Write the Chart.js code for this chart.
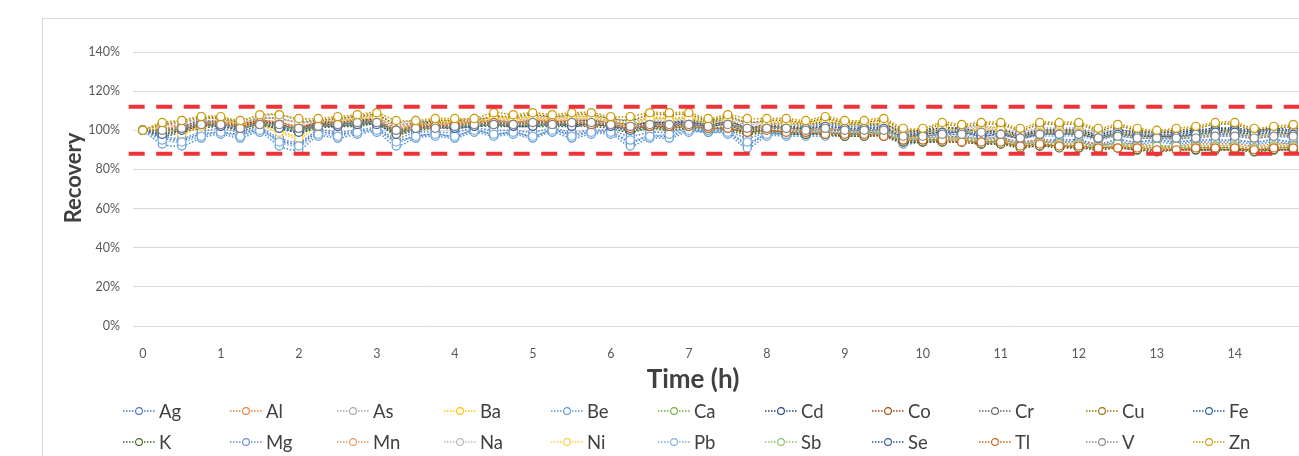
<!DOCTYPE html>
<html>
<head>
<meta charset="utf-8">
<script src="https://cdn.jsdelivr.net/npm/chart.js@4"></script>
<style>
  body { margin:0; background:#fff; overflow:hidden; width:1299px; height:456px; position:relative; font-family: Lato, "Noto Sans", sans-serif; }
  #frame { position:absolute; left:42px; top:18px; width:1330px; height:470px; border:1px solid #d9d9d9; box-sizing:border-box; }
  #wrap { position:absolute; left:42px; top:18px; width:1320px; height:438px; }
  #xtitle { position:absolute; left:593px; width:200px; top:362px; text-align:center; font-size:26px; font-weight:bold; color:#404040; line-height:32px; }
  #ytitle { position:absolute; left:-27px; width:200px; top:164px; text-align:center; font-size:22px; font-weight:bold; color:#404040; line-height:28px; transform:rotate(-90deg); }
  #legend { position:absolute; left:122px; top:395px; width:1200px; }
  .row { height:31px; white-space:nowrap; }
  .item { display:inline-flex; align-items:center; width:107px; height:31px; font-size:18.5px; color:#404040; }
  .item svg { margin-right:3px; }
</style>
</head>
<body>
<div id="frame"></div>
<div id="wrap"><canvas id="recoveryChart" width="1320" height="438"></canvas></div>
<div id="xtitle">Time (h)</div>
<div id="ytitle">Recovery</div>
<div id="legend"></div>
<script>
'use strict';

// sampling times (h)
const hours = [0, 0.25, 0.5, 0.75, 1, 1.25, 1.5, 1.75, 2, 2.25, 2.5, 2.75, 3, 3.25, 3.5, 3.75,
  4, 4.25, 4.5, 4.75, 5, 5.25, 5.5, 5.75, 6, 6.25, 6.5, 6.75, 7, 7.25, 7.5, 7.75,
  8, 8.25, 8.5, 8.75, 9, 9.25, 9.5, 9.75, 10, 10.25, 10.5, 10.75, 11, 11.25, 11.5, 11.75,
  12, 12.25, 12.5, 12.75, 13, 13.25, 13.5, 13.75, 14, 14.25, 14.5, 14.75];

// labelled hours on the x axis
const hourTicks = [0, 1, 2, 3, 4, 5, 6, 7, 8, 9, 10, 11, 12, 13, 14];

const elements = ['Ag', 'Al', 'As', 'Ba', 'Be', 'Ca', 'Cd', 'Co', 'Cr', 'Cu', 'Fe',
  'K', 'Mg', 'Mn', 'Na', 'Ni', 'Pb', 'Sb', 'Se', 'Tl', 'V', 'Zn'];

// recovery in %
const recAg = [100,96,95,98, 99,98,100,95, 93,99,98,99, 100,95,97,98, 97,100,98,99, 97,100,98,99, 99,94,97,97, 100,99,99,93, 98,98,98,99, 98,99,98,94, 95,96,97,95, 96,94,95,95, 95,93,95,94, 95,94,95,95, 95,94,95,94];
const recAl = [100,103,102,104, 105,103,105,104, 102,104,104,105, 106,102,103,103, 104,104,105,104, 105,105,105,105, 104,103,104,103, 104,103,103,101, 102,101,101,101, 100,100,100,97, 97,97,96,96, 96,94,95,94, 94,93,93,93, 92,92,93,93, 93,92,93,93];
const recAs = [100,103,105,107, 106,105,107,108, 105,105,106,107, 107,104,105,104, 105,106,106,106, 107,107,107,107, 106,105,106,106, 106,105,106,104, 104,104,103,104, 103,103,103,100, 100,101,101,102, 101,99,101,101, 101,99,100,99, 99,99,99,100, 100,99,100,100];
const recBa = [100,102,99,103, 105,104,103,100, 97,104,105,106, 107,98,103,104, 105,104,107,106, 107,106,107,107, 105,103,107,106, 107,104,106,100, 104,104,104,105, 104,104,104,98, 98,102,100,101, 101,97,100,100, 100,97,99,98, 97,97,98,100, 100,98,99,99];
const recBe = [100,93,92,96, 98,96,99,92, 90,97,96,98, 99,92,96,97, 96,99,97,98, 96,99,96,98, 98,92,96,96, 99,99,98,91, 97,97,97,97, 97,98,97,93, 94,95,96,93, 95,93,94,94, 94,92,94,93, 94,93,94,94, 94,93,94,93];
const recCa = [100,98,100,102, 102,101,103,102, 100,102,102,103, 103,99,101,101, 102,102,103,102, 103,103,103,103, 102,100,101,101, 102,101,101,99, 100,99,99,99, 98,98,98,95, 95,95,95,94, 94,92,93,92, 92,91,92,91, 91,91,91,91, 91,90,91,91];
const recCd = [100,100,102,105, 104,103,105,103, 101,104,104,105, 105,100,103,104, 103,104,105,104, 104,105,104,105, 104,102,104,104, 105,104,105,101, 103,103,103,104, 103,103,103,99, 100,101,101,99, 100,98,100,100, 100,98,100,99, 99,99,100,101, 101,100,101,100];
const recCo = [100,99,100,102, 103,102,104,103, 101,102,103,103, 104,100,101,102, 102,103,103,103, 103,103,103,103, 102,101,102,101, 102,101,101,99, 100,99,98,98, 97,97,97,94, 94,94,94,93, 93,92,92,92, 91,91,91,90, 90,90,90,90, 90,90,90,90];
const recCr = [100,101,102,104, 104,102,104,104, 102,103,104,105, 105,101,102,102, 103,104,104,104, 105,104,105,105, 104,103,104,104, 104,103,104,102, 102,102,101,102, 101,101,101,98, 98,99,99,100, 99,97,99,99, 99,97,98,97, 97,97,97,98, 98,97,98,98];
const recCu = [100,103,104,106, 106,104,106,106, 104,105,106,107, 108,103,104,105, 105,105,107,107, 108,107,108,108, 106,105,108,108, 108,105,107,104, 105,105,104,106, 104,104,105,100, 100,103,102,103, 103,100,103,103, 103,100,102,100, 99,100,101,103, 103,100,101,102];
const recFe = [100,99,101,104, 103,102,104,102, 100,103,103,104, 104,99,102,103, 102,103,104,103, 103,104,103,104, 103,101,103,103, 104,103,104,100, 102,102,102,103, 102,102,102,98, 99,100,100,98, 99,97,99,99, 99,97,99,98, 98,98,99,100, 100,99,100,99];
const recK = [100,97,99,101, 102,100,102,101, 99,101,102,102, 103,98,100,101, 101,102,102,102, 102,102,102,102, 101,99,101,100, 101,100,100,98, 99,98,98,98, 97,97,97,94, 94,94,94,93, 93,91,92,91, 91,90,91,90, 89,90,90,90, 90,89,90,90];
const recMg = [100,97,96,99, 101,99,101,96, 94,100,99,100, 101,96,99,99, 99,101,100,100, 99,101,99,100, 100,97,99,99, 101,101,100,96, 99,99,100,100, 100,100,100,96, 97,98,99,97, 98,97,98,98, 98,96,98,97, 97,96,98,98, 98,97,98,97];
const recMn = [100,101,102,104, 104,103,105,104, 102,104,104,105, 105,101,103,103, 104,104,105,104, 105,105,105,104, 104,102,103,103, 103,102,102,100, 101,100,100,99, 99,99,98,96, 96,96,95,95, 95,93,94,93, 93,92,92,92, 91,91,92,92, 92,91,92,92];
const recNa = [100,102,104,105, 105,104,106,106, 104,104,105,106, 106,103,104,103, 104,105,105,105, 106,106,106,106, 105,104,105,105, 105,104,105,103, 103,103,102,103, 102,102,102,99, 99,100,100,101, 100,98,100,100, 100,98,99,98, 98,98,98,99, 99,98,99,99];
const recNi = [100,101,98,102, 104,103,102,99, 96,102,104,105, 106,97,102,103, 104,103,106,105, 106,105,106,106, 104,102,106,105, 106,103,105,99, 103,103,103,104, 103,103,103,97, 97,101,99,100, 100,96,99,99, 99,96,98,97, 96,96,97,99, 99,97,98,98];
const recPb = [100,95,94,97, 99,97,100,94, 92,98,97,99, 100,94,97,98, 97,100,98,99, 97,100,97,99, 99,95,97,98, 100,100,99,94, 98,98,99,99, 99,99,99,95, 96,97,98,96, 97,96,97,97, 97,95,97,96, 96,95,97,97, 97,96,97,96];
const recSb = [100,99,101,103, 103,102,103,102, 100,102,103,103, 104,100,102,102, 102,103,103,103, 103,103,104,103, 103,101,102,102, 102,101,102,100, 101,100,100,100, 99,99,99,96, 96,96,96,95, 95,93,94,93, 93,92,93,92, 92,92,92,92, 92,91,92,92];
const recSe = [100,98,100,103, 102,101,103,101, 99,102,102,103, 103,98,101,102, 101,102,103,102, 102,103,102,103, 102,100,102,102, 103,102,103,99, 101,101,101,102, 101,101,101,97, 98,99,99,97, 98,96,98,98, 98,96,98,97, 97,97,98,99, 99,98,99,98];
const recTl = [100,100,101,103, 103,102,104,103, 101,103,103,104, 104,100,102,102, 103,103,104,103, 104,104,104,103, 103,101,102,102, 102,101,101,99, 100,99,99,98, 98,98,97,95, 95,95,94,94, 94,92,93,92, 92,91,91,91, 90,90,91,91, 91,90,91,91];
const recV = [100,100,101,103, 103,101,103,103, 101,102,103,104, 104,100,101,101, 102,103,103,103, 104,103,104,104, 103,102,103,103, 103,102,103,101, 101,101,100,101, 100,100,100,97, 97,98,98,99, 98,96,98,98, 98,96,97,96, 96,96,96,97, 97,96,97,97];
const recZn = [100,104,105,107, 107,105,108,108, 106,106,107,108, 109,105,105,106, 106,106,109,108, 109,108,109,109, 107,107,109,109, 109,106,108,106, 106,106,105,107, 105,105,106,101, 101,104,103,104, 104,101,104,104, 104,101,103,101, 100,101,102,104, 104,101,102,103];

const recovery = [recAg, recAl, recAs, recBa, recBe, recCa, recCd, recCo, recCr, recCu, recFe,
  recK, recMg, recMn, recNa, recNi, recPb, recSb, recSe, recTl, recV, recZn];

// acceptance limits (%)
const lowerLimit = 88;
const upperLimit = 112;

const colors = ['#4472C4', '#ED7D31', '#A5A5A5', '#FFC000', '#5B9BD5', '#70AD47', '#264478',
  '#9E480E', '#636363', '#997300', '#255E91', '#43682B', '#698ED0', '#F1975A', '#B7B7B7',
  '#FFCD33', '#7CAFDD', '#8CC168', '#335AA1', '#D26012', '#848484', '#CC9A00'];

const limitLine = (y) => ({
  label: 'limit',
  data: [{x: -0.18, y: y}, {x: 15.2, y: y}],
  borderColor: '#EE3338',
  borderWidth: 4,
  borderDash: [16, 11.5],
  pointRadius: 0,
  tension: 0,
  clip: false,
  order: 0
});

const datasets = elements.map((name, i) => ({
  label: name,
  data: hours.map((h, j) => ({x: h, y: recovery[i][j]})),
  borderColor: colors[i],
  backgroundColor: '#ffffff',
  pointBorderColor: colors[i],
  pointBackgroundColor: '#ffffff',
  borderWidth: 1.6,
  borderDash: [1.6, 1.6],
  pointRadius: 4.1,
  pointBorderWidth: 1.2,
  tension: 0.3,
  order: elements.length - i
}));

datasets.push(limitLine(upperLimit));
datasets.push(limitLine(lowerLimit));

new Chart('recoveryChart', {
  type: 'line',
  data: {datasets: datasets},
  options: {
    responsive: false,
    animation: false,
    layout: {padding: {left: 0, top: 34, right: 59, bottom: 60}},
    plugins: {
      legend: {display: false},
      tooltip: {enabled: false}
    },
    scales: {
      x: {
        type: 'linear',
        min: -0.125,
        max: 14.875,
        grid: {display: false},
        border: {display: false},
        afterBuildTicks: (scale) => {
          scale.ticks = hourTicks.map(v => ({value: v}));
        },
        ticks: {
          padding: 12,
          color: '#595959',
          font: {family: 'Lato', size: 12.5}
        },
        afterFit: (scale) => { scale.height = 70; }
      },
      y: {
        min: 0,
        max: 140,
        grid: {color: '#d9d9d9', drawTicks: false},
        border: {display: false},
        ticks: {
          stepSize: 20,
          padding: 13,
          color: '#595959',
          font: {family: 'Lato', size: 12.5},
          callback: (v) => v + '%'
        },
        afterFit: (scale) => { scale.width = 91; }
      }
    }
  }
});

// legend in two rows of eleven, like the original
const legend = document.getElementById('legend');
[elements.slice(0, 11), elements.slice(11)].forEach((rowNames, r) => {
  const row = document.createElement('div');
  row.className = 'row';
  rowNames.forEach((name, k) => {
    const c = colors[r * 11 + k];
    const item = document.createElement('span');
    item.className = 'item';
    item.innerHTML =
      '<svg width="34" height="10"><line x1="1" y1="5" x2="33" y2="5" stroke="' + c +
      '" stroke-width="1.5" stroke-dasharray="1.5 1.5"/><circle cx="17" cy="5" r="3.4" fill="#fff" stroke="' + c +
      '" stroke-width="1.1"/></svg>' + name;
    row.appendChild(item);
  });
  legend.appendChild(row);
});
</script>
</body>
</html>
